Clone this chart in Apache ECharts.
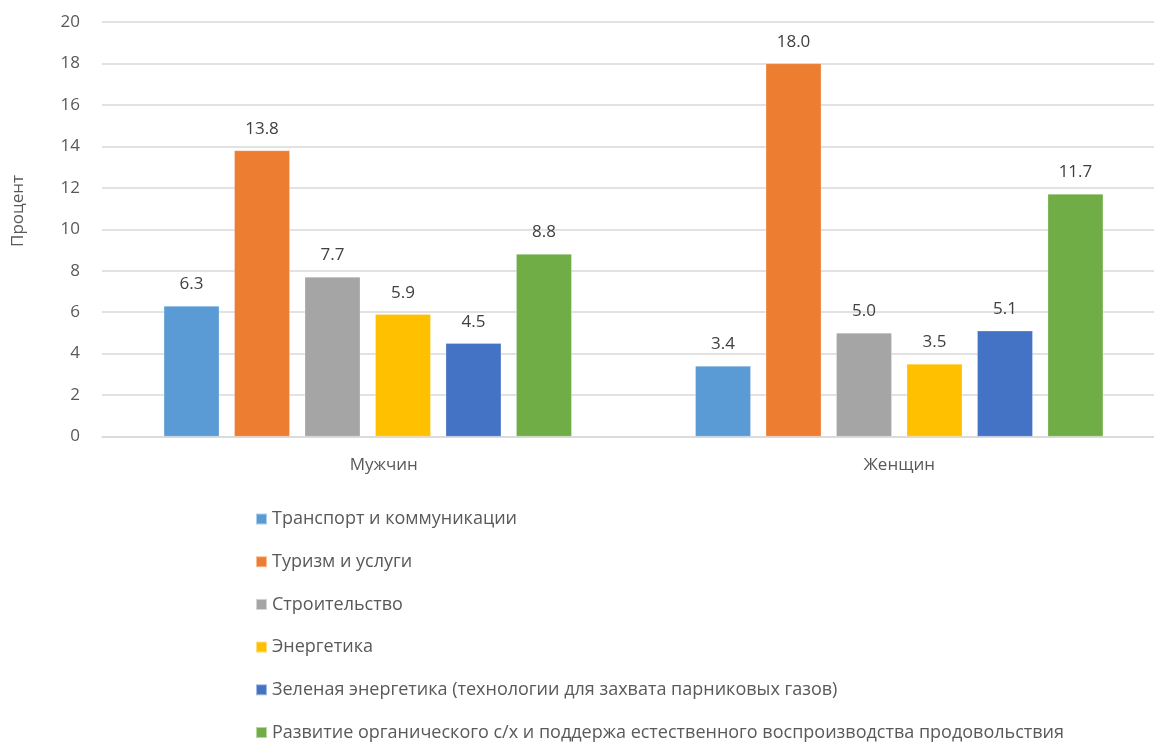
<!DOCTYPE html>
<html>
<head>
<meta charset="utf-8">
<script src="https://cdn.jsdelivr.net/npm/echarts@6/dist/echarts.min.js"></script>
<style>
html,body{margin:0;padding:0;background:#fff;}
#chart{width:1154px;height:744px;}
</style>
</head>
<body>
<div id="chart"></div>
<script>
const categories = ['Мужчин', 'Женщин'];
const seriesNames = [
  'Транспорт и коммуникации',
  'Туризм и услуги',
  'Строительство',
  'Энергетика',
  'Зеленая энергетика (технологии для захвата парниковых газов)',
  'Развитие органического с/х и поддержа естественного воспроизводства продовольствия'
];
const transport = [6.3, 3.4];
const tourism = [13.8, 18.0];
const construction = [7.7, 5.0];
const energy = [5.9, 3.5];
const greenEnergy = [4.5, 5.1];
const organic = [8.8, 11.7];
const yTicks = [0, 2, 4, 6, 8, 10, 12, 14, 16, 18, 20];
const colors = ['#5B9BD5', '#ED7D31', '#A5A5A5', '#FFC000', '#4472C4', '#70AD47'];

const values = [transport, tourism, construction, energy, greenEnergy, organic];
const FONT = '"Open Sans", sans-serif';

const chart = echarts.init(document.getElementById('chart'));
chart.setOption({
  animation: false,
  color: colors,
  textStyle: { fontFamily: FONT },
  grid: { left: 102, top: 22, width: 1063, height: 414.5, containLabel: false, outerBoundsMode: 'none' },
  legend: {
    orient: 'vertical',
    left: 255,
    top: 509,
    height: 240,
    padding: 0,
    itemWidth: 11,
    itemHeight: 11,
    itemGap: 22.7,
    icon: 'rect',
    textStyle: { fontSize: 18, color: '#595959', fontFamily: FONT, lineHeight: 20 },
    data: seriesNames
  },
  graphic: [{
    type: 'text',
    x: 18,
    y: 211,
    rotation: Math.PI / 2,
    style: { text: 'Процент', fontSize: 17, fill: '#595959', fontFamily: FONT, align: 'center', verticalAlign: 'middle' }
  }],
  xAxis: {
    type: 'category',
    data: categories,
    axisLine: { lineStyle: { color: '#d9d9d9', width: 1.5 } },
    axisTick: { show: false },
    axisLabel: {
      fontSize: 17, color: '#595959', margin: 20, fontFamily: FONT,
      formatter: (v, i) => i === 0 ? '{a|' + v + '}' : v,
      rich: { a: { fontSize: 17, color: '#595959', fontFamily: FONT, padding: [0, 0, 0, 32] } }
    }
  },
  yAxis: {
    type: 'value',
    min: 0,
    max: 20,
    interval: 2,
    axisLine: { show: false },
    axisTick: { show: false },
    splitLine: { lineStyle: { color: '#d9d9d9', width: 1.5 } },
    axisLabel: {
      fontSize: 17, color: '#595959', margin: 22, fontFamily: FONT,
      formatter: v => yTicks.includes(v) ? String(v) : ''
    }
  },
  series: seriesNames.map((name, i) => ({
    name: name,
    type: 'bar',
    data: values[i],
    barWidth: 55.5,
    barGap: '27%',
    itemStyle: { color: colors[i], borderColor: 'rgba(255,255,255,0.5)', borderWidth: 0.5 },
    label: {
      show: true,
      position: 'top',
      distance: 13,
      fontSize: 17,
      color: '#404040',
      fontFamily: FONT,
      formatter: p => p.value.toFixed(1)
    }
  }))
});
</script>
</body>
</html>
